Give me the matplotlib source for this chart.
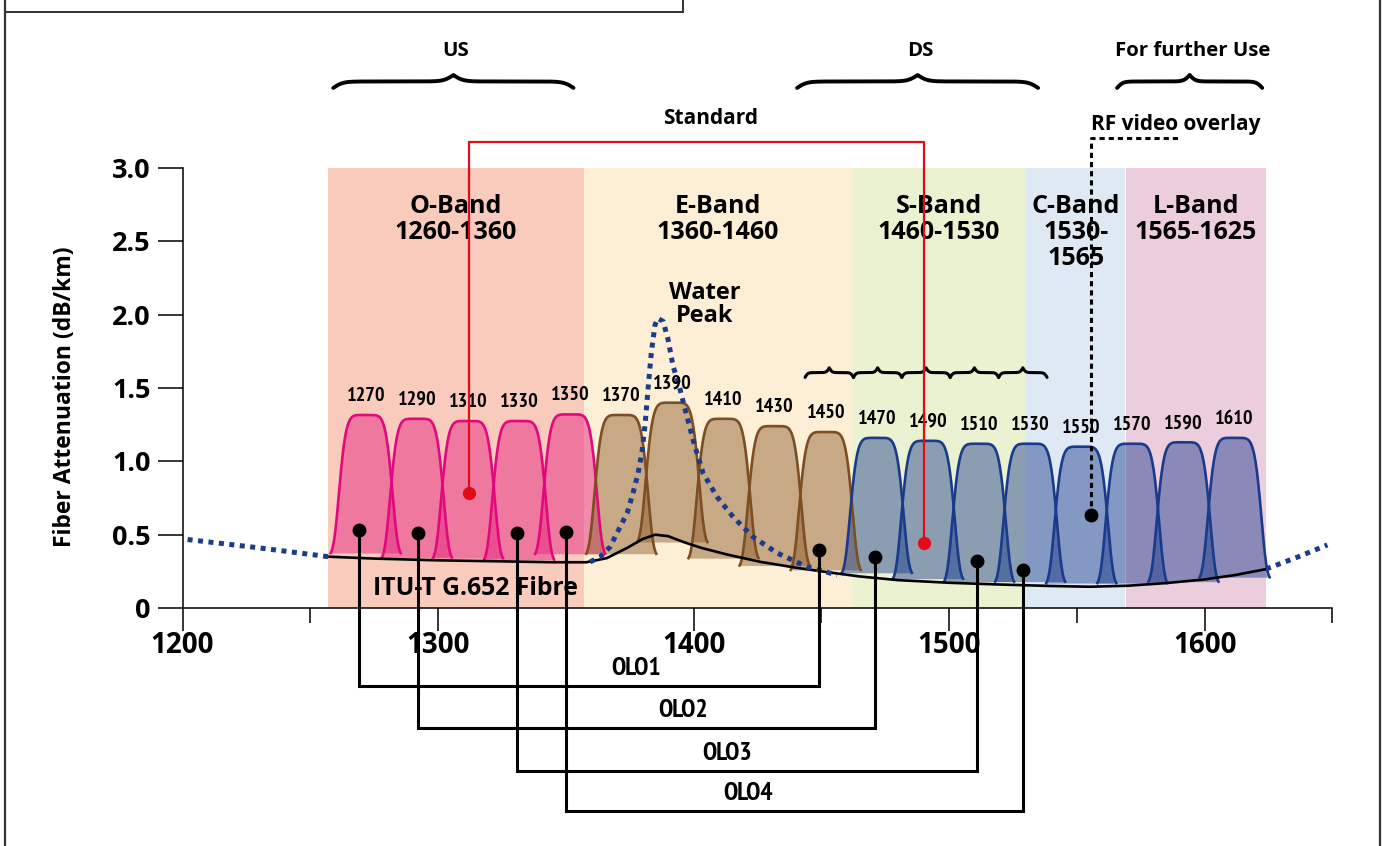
import numpy as np
import matplotlib
matplotlib.use("Agg")
import matplotlib.pyplot as plt
from matplotlib.lines import Line2D
from matplotlib import font_manager as fm

plt.rcParams['font.family'] = ['Open Sans', 'DejaVu Sans']
plt.rcParams['font.weight'] = 'bold'

# ---------------- data ----------------
band_names = ["O-Band\n1260-1360", "E-Band\n1360-1460", "S-Band\n1460-1530",
              "C-Band\n1530-\n1565", "L-Band\n1565-1625"]
band_lo = [1257, 1357, 1462, 1530, 1569]
band_hi = [1357, 1462, 1530, 1569, 1624]
band_colors = ["#F9CBBC", "#FDEFD6", "#EBF2D1", "#DFE9F4", "#ECCDDD"]

channel_nm = [1270, 1290, 1310, 1330, 1350, 1370, 1390, 1410, 1430, 1450,
              1470, 1490, 1510, 1530, 1550, 1570, 1590, 1610]
channel_top = [1.316, 1.29, 1.275, 1.275, 1.32, 1.316, 1.40, 1.29, 1.24, 1.20,
               1.16, 1.14, 1.12, 1.12, 1.10, 1.12, 1.13, 1.16]
channel_base = [0.375, 0.345, 0.34, 0.33, 0.37, 0.37, 0.45, 0.34, 0.29, 0.26,
                0.24, 0.20, 0.18, 0.18, 0.17, 0.17, 0.18, 0.21]

# ITU-T G.652 fibre attenuation (solid)
fibre_nm = [1257, 1275, 1300, 1325, 1345, 1358, 1366, 1374, 1380, 1385, 1390,
            1396, 1403, 1413, 1426, 1440, 1452, 1465, 1480, 1500, 1520, 1540,
            1555, 1570, 1585, 1600, 1612, 1624]
fibre_db = [0.35, 0.337, 0.325, 0.318, 0.312, 0.312, 0.34, 0.41, 0.47, 0.50, 0.49,
            0.45, 0.41, 0.365, 0.315, 0.275, 0.245, 0.215, 0.19, 0.172, 0.16, 0.15,
            0.145, 0.152, 0.17, 0.195, 0.225, 0.265]

# older fibre with water peak (dotted)
wp_left_nm = [1202, 1230, 1257]
wp_left_db = [0.467, 0.41, 0.35]
wp_peak_nm = [1359.5, 1363.4, 1367.3, 1371.2, 1374.0, 1376.3, 1378.3, 1379.9, 1381.0,
              1382.2, 1383.5, 1384.9, 1386.0, 1388.1, 1390.0, 1392.0, 1394.0, 1396.7,
              1399.8, 1403.7, 1409.2, 1415.5, 1423.3, 1432.7, 1444.4, 1456.2]
wp_peak_db = [0.314, 0.348, 0.416, 0.552, 0.648, 0.784, 0.92, 1.077, 1.25,
              1.50, 1.75, 1.93, 1.975, 1.954, 1.83, 1.646, 1.537, 1.353,
              1.145, 0.92, 0.757, 0.62, 0.484, 0.375, 0.28, 0.225]
wp_right_nm = [1624, 1636, 1648]
wp_right_db = [0.266, 0.345, 0.43]

# OLO connections
olo_names = ["OLO1", "OLO2", "OLO3", "OLO4"]
olo_up_nm = [1269, 1292, 1331, 1350]
olo_up_db = [0.53, 0.51, 0.51, 0.518]
olo_down_nm = [1449, 1471, 1511, 1529]
olo_down_db = [0.395, 0.35, 0.32, 0.26]
olo_level = [-0.532, -0.818, -1.111, -1.384]
olo_label_nm = [1377.5, 1396, 1413, 1421.3]

# Standard (red) link
std_nm = [1312, 1490]
std_db = [0.784, 0.443]
std_level = 3.177

# RF video overlay
rf_nm = 1555.6
rf_db = 0.634
rf_level = 3.204
rf_end_nm = 1589.6

# braces: (start, end, label)
brace_lo = [1259, 1440.5, 1565.7]
brace_hi = [1353, 1534.8, 1622.5]
brace_labels = ["US", "DS", "For further Use"]

xticks = [1200, 1300, 1400, 1500, 1600]
xminor = [1250, 1350, 1450, 1550, 1650]
yticks = [0, 0.5, 1.0, 1.5, 2.0, 2.5, 3.0]
ytick_labels = ["0", "0.5", "1.0", "1.5", "2.0", "2.5", "3.0"]

# ---------------- fonts ----------------
def find_condensed():
    cands = []
    for f in fm.fontManager.ttflist:
        n = (f.fname + " " + f.name).lower()
        if ("narrow" in n or "condensed" in n) and "italic" not in n and "oblique" not in n:
            w = f.weight if isinstance(f.weight, int) else 400
            if w >= 600:
                pri = 0 if "liberation" in n else (1 if "narrow" in n else 2)
                if "semicondensed" in n or "semi" in n:
                    pri += 3
                cands.append((pri, f.fname))
    cands.sort()
    return cands[0][1] if cands else None


cond_path = find_condensed()


def cond_font(size):
    if cond_path:
        return fm.FontProperties(fname=cond_path, size=size)
    return fm.FontProperties(family="DejaVu Sans", weight="bold",
                             stretch="condensed", size=size * 0.85)


CH_FONT = cond_font(14.5)
OLO_FONT = cond_font(18.5)

# ---------------- styles ----------------
O_FACE, O_EDGE = "#E62882", "#E2097E"
E_FACE, E_EDGE = "#8B5A2B", "#7D4E22"
B_FACE, B_EDGE = "#15378A", "#1A3A8C"
DOT_BLUE = "#1B3C8C"
RED = "#E30B17"
shift = 1.7        # drawn offset of channel centres
hw, d50, pw = 13.7, 10.2, 6.0

fig = plt.figure(figsize=(13.83, 8.46), dpi=100)
ax = fig.add_axes([182.5 / 1383, (846 - 608) / 846, 1150 / 1383, 440 / 846])
ax.set_xlim(1200, 1650)
ax.set_ylim(0, 3)
ax.set_facecolor("none")

# bands
for lo, hi, col, name in zip(band_lo, band_hi, band_colors, band_names):
    ax.axvspan(lo, hi, color=col, lw=0, zorder=0)
    ax.text((lo + hi) / 2, 2.82, name, ha="center", va="top", fontsize=18,
            fontweight="bold", linespacing=1.05, zorder=6)

# channels
e0 = np.exp(-np.log(2) * (hw / d50) ** pw)
for c, top, base in zip(channel_nm, channel_top, channel_base):
    if c < 1360:
        face, edge, a = O_FACE, O_EDGE, 0.5
    elif c < 1460:
        face, edge, a = E_FACE, E_EDGE, 0.47
    else:
        face, edge, a = B_FACE, B_EDGE, 0.45
    d = np.linspace(-hw, hw, 241)
    h = (np.exp(-np.log(2) * (np.abs(d) / d50) ** pw) - e0) / (1 - e0)
    xs = c + shift + d
    ys = base + (top - base) * h
    ax.fill_between(xs, base, ys, color=face, alpha=a, lw=0, zorder=2)
    ax.plot(xs, ys, color=edge, lw=1.9, zorder=3)
    ax.text(c + shift, top + 0.13, str(c), ha="center", va="center",
            fontproperties=CH_FONT, zorder=6)

# fibre curves
ax.plot(fibre_nm, fibre_db, color="black", lw=1.9, zorder=4, solid_capstyle="butt")
for xs, ys in [(wp_left_nm, wp_left_db), (wp_peak_nm, wp_peak_db),
               (wp_right_nm, wp_right_db)]:
    ax.plot(xs, ys, color=DOT_BLUE, lw=3.6, linestyle=(0, (1, 1.1)),
            dash_capstyle="butt", zorder=5, clip_on=False)

ax.text(1314.5, 0.136, "ITU-T G.652 Fibre", ha="center", va="center",
        fontsize=17.8, fontweight="bold", zorder=6)
ax.text(1404.5, 2.07, "Water\nPeak", ha="center", va="center", fontsize=17,
        fontweight="bold", linespacing=0.95, zorder=6)

# OLO links
for name, x1, y1, x2, y2, lv, lx in zip(olo_names, olo_up_nm, olo_up_db,
                                       olo_down_nm, olo_down_db, olo_level,
                                       olo_label_nm):
    ax.plot([x1, x1, x2, x2], [y1, lv, lv, y2], color="black", lw=2.2,
            zorder=7, clip_on=False, solid_joinstyle="miter")
    ax.plot([x1, x2], [y1, y2], "o", color="black", ms=9, zorder=8, clip_on=False)
    ax.text(lx, lv + 0.12, name, ha="center", va="center", fontproperties=OLO_FONT,
            zorder=8, clip_on=False)

# Standard link
ax.plot([std_nm[0], std_nm[0], std_nm[1], std_nm[1]],
        [std_db[0], std_level, std_level, std_db[1]], color=RED, lw=1.6,
        zorder=7, clip_on=False)
ax.plot(std_nm, std_db, "o", color=RED, ms=8.5, zorder=8, clip_on=False)
ax.text((std_nm[0] + std_nm[1]) / 2 + 5.5, 3.34, "Standard", ha="center",
        va="center", fontsize=15, fontweight="bold", clip_on=False)

# RF video overlay
ax.plot([rf_nm, rf_nm, rf_end_nm], [rf_db, rf_level, rf_level], color="black",
        lw=2.2, linestyle=(0, (1.7, 1.3)), zorder=7, clip_on=False)
ax.plot([rf_nm], [rf_db], "o", color="black", ms=9, zorder=8, clip_on=False)
ax.text(1588.5, 3.30, "RF video overlay", ha="center", va="center", fontsize=15,
        fontweight="bold", clip_on=False)


def brace(x0, x1, y_end, y_tip, beta=25, n=200):
    t = np.linspace(0, 1, n)
    s = 1 / (1 + np.exp(-beta * t)) + 1 / (1 + np.exp(-beta * (t - 1))) - 0.5
    half = (x1 - x0) / 2
    xs = np.concatenate([x0 + t * half, x1 - t[::-1] * half])
    ys = np.concatenate([s, s[::-1]])
    return xs, y_end + ys * (y_tip - y_end)


for lo, hi, lab in zip(brace_lo, brace_hi, brace_labels):
    bx, by = brace(lo, hi, 3.546, 3.634)
    ax.plot(bx, by, color="black", lw=2.8, clip_on=False, solid_capstyle="round")
    ax.text((lo + hi) / 2 + 1, 3.80, lab, ha="center", va="center", fontsize=14.7,
            fontweight="bold", clip_on=False)

# small braces over DS channels
small_edges = np.linspace(1443.6, 1538.3, 6)
for lo, hi in zip(small_edges[:-1], small_edges[1:]):
    bx, by = brace(lo, hi, 1.572, 1.638, beta=18)
    ax.plot(bx, by, color="black", lw=2.2, zorder=6, solid_capstyle="round")

# axes styling
for s in ["top", "right"]:
    ax.spines[s].set_visible(False)
for s in ["left", "bottom"]:
    ax.spines[s].set_linewidth(1.1)
ax.set_xticks(xticks)
ax.set_xticks(xminor, minor=True)
ax.set_xticklabels([str(v) for v in xticks])
ax.set_yticks(yticks)
ax.set_yticklabels(ytick_labels)
ax.tick_params(axis="x", which="major", length=16.5, width=1.1, pad=0, labelsize=20)
ax.tick_params(axis="x", which="minor", length=10.8, width=1.1)
ax.tick_params(axis="y", length=18, width=1.1, pad=5, labelsize=19.5)
ax.set_ylabel("Fiber Attenuation (dB/km)", fontsize=16.5, fontweight="bold")
ax.yaxis.set_label_coords(-0.0917, 0.48)

# figure frame
fig.add_artist(Line2D([5 / 1383, 5 / 1383], [0, 1], color="#333333", lw=1.6))
fig.add_artist(Line2D([1380 / 1383, 1380 / 1383], [0, 1], color="#333333", lw=1.6))
fig.add_artist(Line2D([5 / 1383, 683 / 1383], [1 - 12 / 846, 1 - 12 / 846],
                      color="#333333", lw=1.4))
fig.add_artist(Line2D([683 / 1383, 683 / 1383], [1 - 12 / 846, 1], color="#333333",
                      lw=1.4))

fig.savefig("out.png", dpi=100, facecolor="white")
